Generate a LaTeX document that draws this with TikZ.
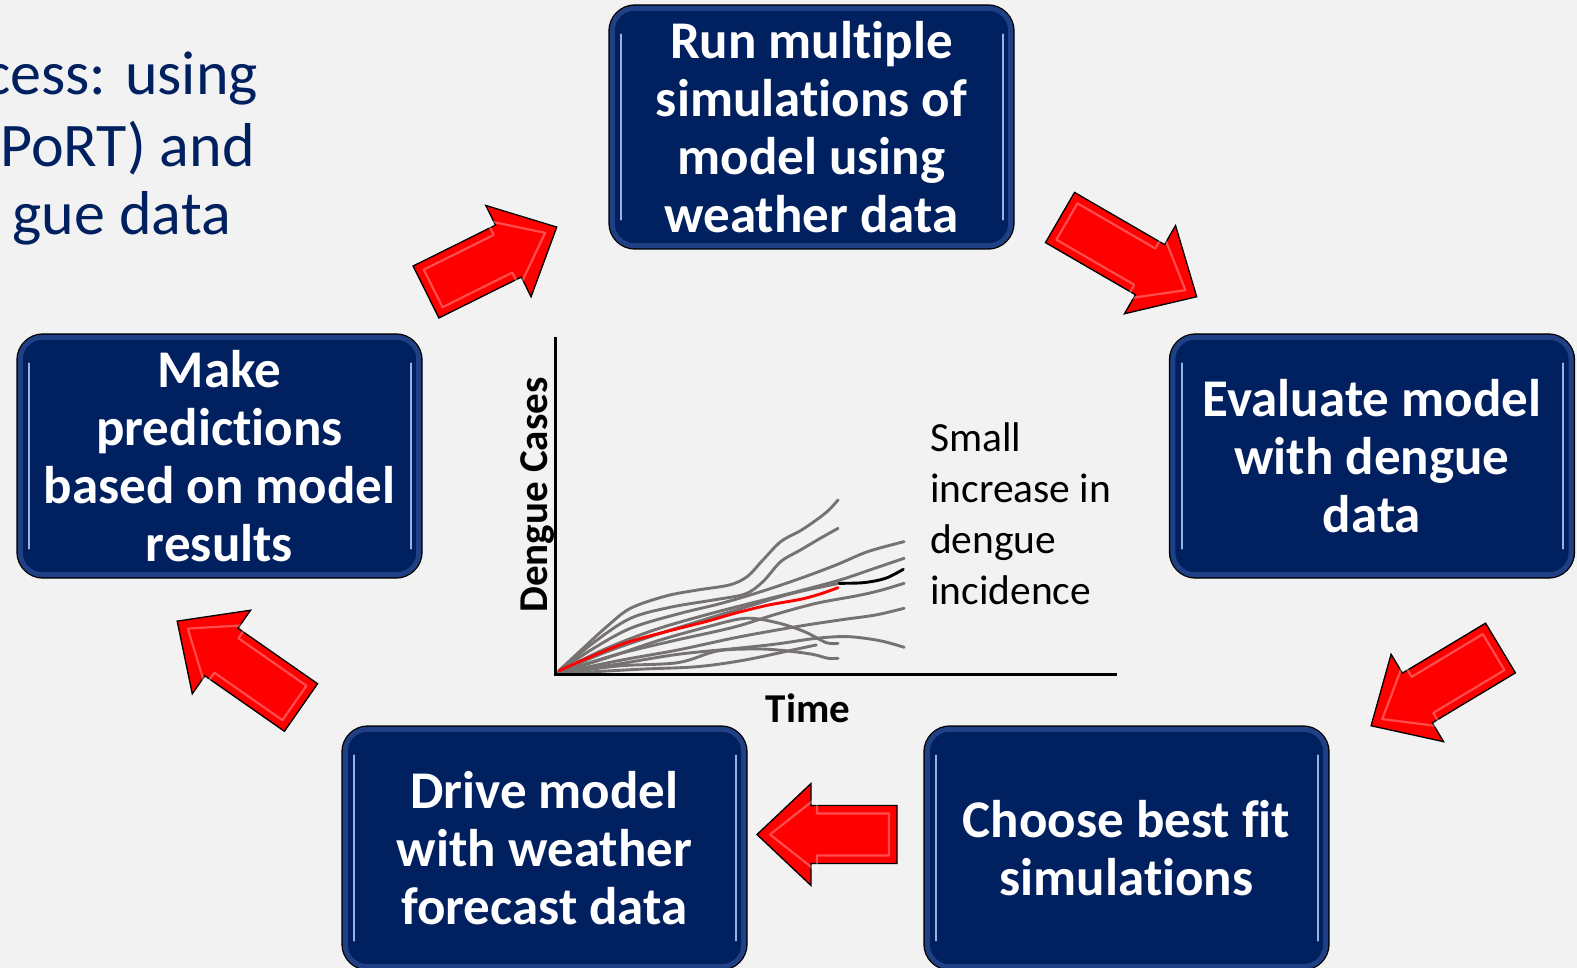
\documentclass[tikz,border=0pt]{standalone}
\usepackage{fontspec}
\setmainfont[Ligatures=NoCommon]{Carlito}
\definecolor{bgpaper}{RGB}{242,242,242}
\definecolor{navy}{RGB}{0,32,96}
\definecolor{edgeglow}{RGB}{60,92,165}
\definecolor{rimline}{RGB}{150,178,228}
\definecolor{simgray}{RGB}{118,114,114}
\definecolor{arrowred}{RGB}{255,0,0}

\tikzset{
  stepbox/.style={draw=black, line width=1.4pt, fill=navy, rounded corners=26pt,
    minimum width=405pt, minimum height=244pt, inner sep=0pt, text=white,
    align=center, font=\fontsize{53}{58}\selectfont\bfseries},
  glow/.style={draw=edgeglow, line width=5pt, opacity=0.55, rounded corners=22pt},
  rim/.style={draw=rimline, line width=2pt, line cap=round},
  titletext/.style={text=navy, inner sep=0pt, font=\fontsize{62}{70}\selectfont},
  axislabel/.style={text=black, inner sep=0pt, font=\fontsize{41}{50}\selectfont\bfseries},
  notetext/.style={text=black, inner sep=0pt, font=\fontsize{41.5}{50.5}\selectfont},
  axisline/.style={draw=black, line width=3pt},
  sim/.style={draw=simgray, line width=2.9pt, line cap=round, line join=round},
  bestfit/.style={draw=arrowred, line width=2.9pt, line cap=round, line join=round},
  forecast/.style={draw=black, line width=2.9pt, line cap=round, line join=round},
  arrowbody/.style={fill=arrowred, draw=black, line width=1.3pt, line join=miter},
  arrowbevel/.style={draw=white, line width=2.2pt, opacity=0.3, line join=round},
}

% block arrow: tail centre x, tail centre y, direction angle, length
\newcommand{\redarrow}[4]{%
  \begin{scope}[shift={(#1,#2)}, rotate=#3]
    \filldraw[arrowbody] (0,-29) -- ({#4-54},-29) -- ({#4-54},-51) -- (#4,0)
      -- ({#4-54},51) -- ({#4-54},29) -- (0,29) -- cycle;
    \draw[arrowbevel] (8,-21) -- ({#4-60},-21) -- ({#4-60},-37) -- ({#4-13},0)
      -- ({#4-60},37) -- ({#4-60},21) -- (8,21) -- cycle;
  \end{scope}}

\begin{document}
\begin{tikzpicture}[x=1pt, y=-1pt]
  \useasboundingbox (0,0) rectangle (1577,968);
  \fill[bgpaper] (0,0) rectangle (1577,968);

  % heading, running off the left edge
  \node[titletext, anchor=base east] (head1) at (258,95) {cess: using};
  \node[titletext, anchor=base east] (head2) at (255,167) {PoRT) and};
  \node[titletext, anchor=base east] (head3) at (231,235) {gue data};

  % ---- chart of simulated dengue cases ----
  \coordinate (origin) at (555,674);
  \coordinate (ytop) at (555,337);
  \coordinate (xend) at (1117,674);

  \begin{scope}[shift={(500,320)}, xscale=0.3954, yscale=0.3333]
    \draw[sim] plot[smooth, tension=0.55] coordinates {(140,1062) (210,985) (270,920) (330,865) (420,828) (500,810) (580,795) (625,770) (665,720) (710,665) (760,632) (800,600) (830,572) (855,540)};
    \draw[sim] plot[smooth, tension=0.55] coordinates {(140,1062) (240,965) (330,895) (430,862) (540,840) (620,822) (665,785) (710,725) (760,690) (810,655) (855,625)};
    \draw[sim] plot[smooth, tension=0.55] coordinates {(140,1062) (230,990) (330,925) (450,882) (560,850) (660,815) (760,775) (850,735) (930,695) (1022,665)};
    \draw[sim] plot[smooth, tension=0.55] coordinates {(140,1062) (260,990) (390,930) (520,885) (640,848) (760,812) (860,780) (940,748) (1022,715)};
    \draw[sim] plot[smooth, tension=0.55] coordinates {(140,1062) (260,1000) (380,950) (500,905) (620,862) (740,820) (858,790)};
    \draw[sim] plot[smooth, tension=0.55] coordinates {(140,1062) (290,1005) (440,962) (590,922) (700,882) (800,850) (900,828) (960,812) (1022,790)};
    \draw[sim] plot[smooth, tension=0.55] coordinates {(140,1062) (300,1022) (450,990) (600,952) (750,920) (860,900) (950,885) (1022,865)};
    \draw[sim] plot[smooth, tension=0.55] coordinates {(140,1062) (300,1032) (450,1003) (600,985) (700,972) (800,955) (880,950) (960,962) (1022,982)};
    \draw[sim] plot[smooth, tension=0.55] coordinates {(140,1062) (280,1010) (400,962) (520,922) (620,895) (700,908) (770,935) (825,968) (855,970)};
    \draw[sim] plot[smooth, tension=0.55] coordinates {(140,1062) (300,1038) (450,1028) (550,993) (650,987) (720,992) (790,1003) (830,1015) (855,1015)};
    \draw[sim] plot[smooth, tension=0.55] coordinates {(140,1062) (350,1048) (500,1040) (620,1020) (740,990) (800,975)};
    % best-fit run and its forecast continuation
    \draw[bestfit] plot[smooth, tension=0.55] coordinates {(150,1052) (230,1010) (320,968) (420,935) (520,905) (600,878) (680,855) (760,838) (810,822) (855,803)};
    \draw[forecast] plot[smooth, tension=0.55] coordinates {(858,790) (920,788) (975,775) (1020,748)};
  \end{scope}

  \draw[axisline] (ytop) -- (origin) -- (xend);
  \node[axislabel, rotate=90, anchor=base] (ylab) at (547,495) {Dengue Cases};
  \node[axislabel, anchor=base] (xlab) at (808,722) {Time};
  \node[notetext, anchor=base west] (note1) at (930,451.7) {Small};
  \node[notetext, anchor=base west] (note2) at (930,502.5) {increase in};
  \node[notetext, anchor=base west] (note3) at (930,553.2) {dengue};
  \node[notetext, anchor=base west] (note4) at (930,604) {incidence};

  % ---- process steps ----
  \node[stepbox] (run) at (811.5,127) {Run multiple\\simulations of\\model using\\weather data};
  \node[stepbox] (eval) at (1372,456) {Evaluate model\\with dengue\\data};
  \node[stepbox] (choose) at (1126.5,848) {Choose best fit\\simulations};
  \node[stepbox] (drive) at (544.5,848) {Drive model\\with weather\\forecast data};
  \node[stepbox] (make) at (219.5,456) {Make\\predictions\\based on model\\results};

  \foreach \b in {run,eval,choose,drive,make}{
    \draw[glow] ([shift={(4pt,-4pt)}]\b.north west) rectangle ([shift={(-4pt,4pt)}]\b.south east);
    \draw[rim] ([shift={(13pt,-30pt)}]\b.north west) -- ([shift={(13pt,30pt)}]\b.south west);
    \draw[rim] ([shift={(-12pt,-30pt)}]\b.north east) -- ([shift={(-12pt,30pt)}]\b.south east);
  }

  % ---- arrows around the cycle ----
  \redarrow{426}{292}{26.4}{146}
  \redarrow{1060}{217.5}{-30.1}{158}
  \redarrow{1500.5}{648}{211}{151}
  \redarrow{897}{834.5}{180}{140}
  \redarrow{301}{707.5}{145.1}{151}
\end{tikzpicture}
\end{document}
